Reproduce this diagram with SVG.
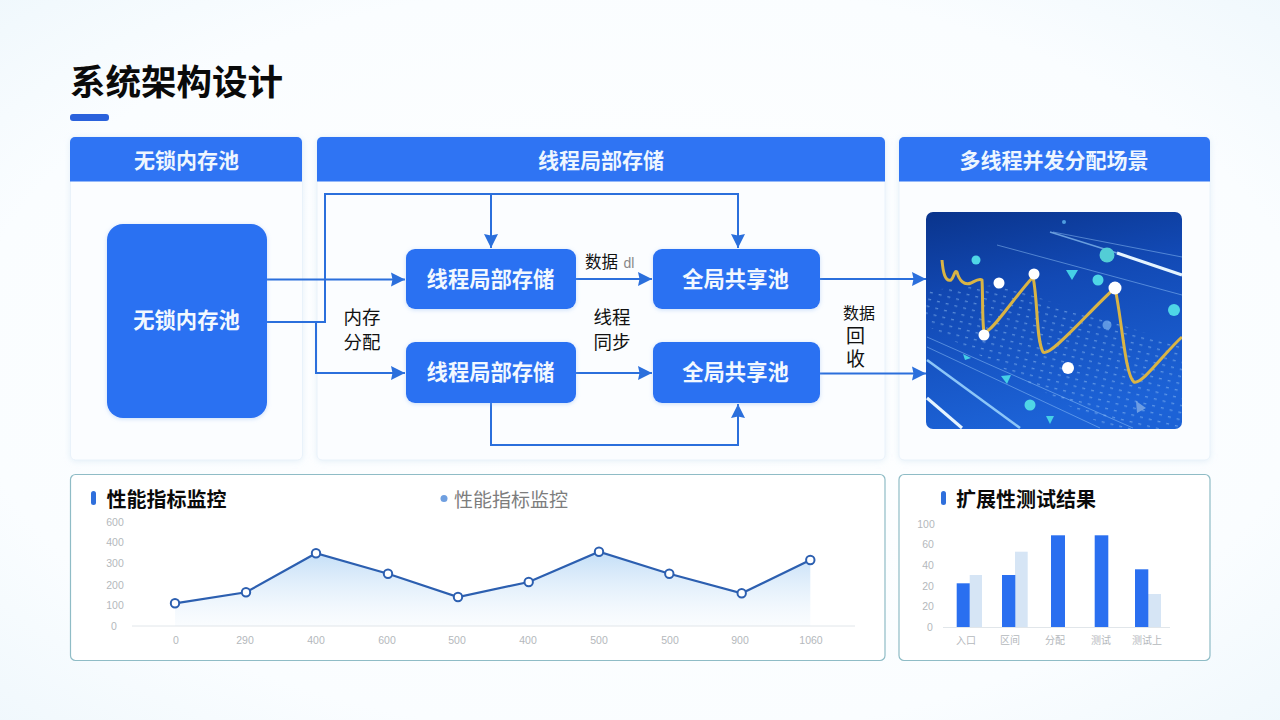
<svg xmlns="http://www.w3.org/2000/svg" width="1280" height="720" viewBox="0 0 1280 720">
<style>
text{font-family:"Noto Sans CJK SC","Noto Sans",sans-serif;text-anchor:middle}
.panel{fill:#fbfdff;stroke:#e9f2fa;stroke-width:1;filter:url(#soft)}
.head{fill:#2f74f3}
.ht{fill:#eef6ff;font-size:21px;font-weight:700}
.node{fill:#2b71f2;filter:url(#glow)}
.nt{fill:#f2f8ff;font-size:21.300px;font-weight:700}
.lab{fill:#111;font-size:18.500px}
.tight{font-family:"Liberation Sans","Noto Sans CJK SC",sans-serif}
.con{fill:none;stroke:#2b6fdc;stroke-width:2}
.card{fill:#fff;stroke:#8fbcc6;stroke-width:1.200}
.sec{fill:#0a0a0a;font-size:20px;font-weight:700;text-anchor:start}
.ax{fill:#b4b8bc;font-size:10.500px;font-family:"Liberation Sans",sans-serif}
.axc{font-family:"Noto Sans CJK SC",sans-serif;font-size:10px}
.pt{fill:#fff;stroke:#2c5fb0;stroke-width:2}
.b1{fill:#2a6ff0}.b2{fill:#d6e5f5}
.wd{fill:#fff}.cy{fill:#4fd6e6}
.st{stroke:#9fd0ff;fill:none;stroke-width:1;opacity:.45}
.tri{fill:#45cfe6}
</style>
<defs>
<radialGradient id="bg" cx="50%" cy="50%" r="75%"><stop offset="0" stop-color="#fff"/><stop offset=".7" stop-color="#fafdff"/><stop offset="1" stop-color="#eef7fc"/></radialGradient>
<linearGradient id="area" x1="0" y1="0" x2="0" y2="1"><stop offset="0" stop-color="#bcdaf6" stop-opacity=".9"/><stop offset="1" stop-color="#eef6fd" stop-opacity=".3"/></linearGradient>
<linearGradient id="img" x1="0" y1="0" x2="0.25" y2="1"><stop offset="0" stop-color="#0a348c"/><stop offset=".4" stop-color="#1249b4"/><stop offset="1" stop-color="#1c62d6"/></linearGradient>
<filter id="soft" x="-5%" y="-5%" width="110%" height="110%"><feDropShadow dx="0" dy="1" stdDeviation="3" flood-color="#b9d4ea" flood-opacity=".35"/></filter>
<filter id="glow" x="-10%" y="-15%" width="120%" height="130%"><feDropShadow dx="0" dy="1" stdDeviation="2" flood-color="#7fb0f0" flood-opacity=".4"/></filter>
<filter id="b1"><feGaussianBlur stdDeviation=".6"/></filter>
<marker id="arr" markerUnits="userSpaceOnUse" markerWidth="15" markerHeight="15" refX="14" refY="7.500" orient="auto"><path d="M0 .5L14 7.500L0 14.500L1.500 7.500Z" fill="#2b6fdc"/></marker>
<pattern id="dots" width="9" height="7" patternUnits="userSpaceOnUse" patternTransform="rotate(14)"><rect x="1" y="2" width="3" height="1.300" fill="#9cc8f5"/></pattern>
<clipPath id="ic"><rect x="926" y="212" width="256" height="217" rx="7"/></clipPath>
</defs>
<rect width="1280" height="720" fill="url(#bg)"/>
<text x="70" y="95" style="font-size:35.500px;font-weight:700;text-anchor:start;fill:#0a0a0a">系统架构设计</text>
<rect x="70" y="114" width="39" height="7" rx="3" fill="#2a62dc"/>

<g id="panel-left"><rect class="panel" x="70.500" y="137" width="232" height="323" rx="5"/><path class="head" d="M70 142a5 5 0 0 1 5-5h222a5 5 0 0 1 5 5v39.500H70Z"/><text class="ht" x="186.500" y="168">无锁内存池</text></g>
<g id="panel-mid"><rect class="panel" x="317" y="137" width="568" height="323" rx="5"/><path class="head" d="M317 142a5 5 0 0 1 5-5h558a5 5 0 0 1 5 5v39.500H317Z"/><text class="ht" x="601" y="168">线程局部存储</text></g>
<g id="panel-right"><rect class="panel" x="899" y="137" width="311" height="323" rx="5"/><path class="head" d="M899 142a5 5 0 0 1 5-5h301a5 5 0 0 1 5 5v39.500H899Z"/><text class="ht" x="1054" y="168">多线程并发分配场景</text></g>

<g id="connectors">
<path class="con" d="M267 279.500H405" marker-end="url(#arr)"/>
<path class="con" d="M267 322H325V194H738V248" marker-end="url(#arr)"/>
<path class="con" d="M491 194V248" marker-end="url(#arr)"/>
<path class="con" d="M316 322V373H405" marker-end="url(#arr)"/>
<path class="con" d="M576 279H652" marker-end="url(#arr)"/>
<path class="con" d="M576 373H652" marker-end="url(#arr)"/>
<path class="con" d="M491 403V445H738V404" marker-end="url(#arr)"/>
<path class="con" d="M820 279H926" marker-end="url(#arr)"/>
<path class="con" d="M820 373.500H926" marker-end="url(#arr)"/>
</g>

<g id="node-pool"><rect class="node" x="107" y="224" width="160" height="194" rx="16"/><text class="nt" x="186.500" y="328">无锁内存池</text></g>
<g id="node-tls1"><rect class="node" x="406" y="249" width="170" height="60" rx="9"/><text class="nt" x="490.500" y="287">线程局部存储</text></g>
<g id="node-tls2"><rect class="node" x="406" y="342" width="170" height="61" rx="9"/><text class="nt" x="490.500" y="380">线程局部存储</text></g>
<g id="node-gp1"><rect class="node" x="653" y="249" width="167" height="60" rx="9"/><text class="nt" x="735.500" y="287">全局共享池</text></g>
<g id="node-gp2"><rect class="node" x="653" y="342" width="167" height="61" rx="9"/><text class="nt" x="735.500" y="380">全局共享池</text></g>

<g id="labels">
<text class="lab" x="362" y="324">内存</text><text class="lab" x="362" y="349">分配</text>
<text class="lab" x="612" y="324">线程</text><text class="lab" x="612" y="349">同步</text>
<text class="lab" x="601.500" y="268" style="font-size:16.500px">数据</text>
<text x="629" y="268" style="font-size:14px;fill:#888;font-family:'Liberation Sans',sans-serif">dl</text>
<text class="lab tight" x="859" y="319" style="font-size:16px">数据</text>
<text class="lab tight" x="855.500" y="343" style="font-size:19px">回</text>
<text class="lab tight" x="855.500" y="366" style="font-size:19px">收</text>
</g>

<g id="scene" clip-path="url(#ic)">
<rect x="926" y="212" width="256" height="217" fill="url(#img)"/>
<path d="M926 290L1000 285L1182 345V429H1110L926 325Z" fill="url(#dots)" opacity=".5"/>
<g filter="url(#b1)">
<path class="st" d="M1053 232L1182 257M997 245L1182 295M927 337L1133 428M927 347L1100 428"/>
<path d="M1117 253L1182 275" stroke="#e5f4ff" stroke-width="3" fill="none"/>
<path d="M1050 232L1117 253" stroke="#8fc4f5" stroke-width="1.500" fill="none" opacity=".7"/>
<path d="M927 360L1020 428" stroke="#8cc6f8" stroke-width="2.500" fill="none"/>
<path d="M927 398L962 428" stroke="#e5f4ff" stroke-width="3" fill="none"/>
<circle cx="1107" cy="255" r="7.500" fill="#52cdd6"/>
<circle class="cy" cx="976" cy="260" r="4.500"/><circle class="cy" cx="1098" cy="280" r="5.500"/><circle class="cy" cx="1174" cy="310" r="6"/><circle class="cy" cx="1030" cy="405" r="5.500"/>
<circle cx="1107" cy="325" r="4.500" fill="#6fa8ea" opacity=".8"/><circle cx="1064" cy="222" r="2" fill="#4f9de0"/>
<path class="tri" d="M1066 270L1078 270L1072 280Z"/><path class="tri" d="M1001 376L1011 375L1007 384Z"/><path class="tri" d="M963 354L971 358L965 360Z"/><path class="tri" d="M1046 416L1054 416L1050 424Z"/>
<path d="M1136 401L1146 408L1137 413Z" fill="#8fb6e8" opacity=".7"/>
<path d="M942 260C943 272 945 282 951 280C954 278 954 270 957 272C959 280 964 286 971 283C975 281 979 278 982 280C983 295 982 320 984 332C990 335 1012 300 1033 277C1038 300 1036 340 1043 352C1050 358 1090 310 1115 288C1122 320 1125 375 1134 382C1142 385 1165 352 1182 337" fill="none" stroke="#d9b444" stroke-width="3" stroke-linejoin="round"/>
<circle class="wd" cx="999" cy="283" r="5.500"/><circle class="wd" cx="1034" cy="274" r="5.500"/><circle class="wd" cx="1115" cy="288" r="6.500"/><circle class="wd" cx="984" cy="335" r="5.500"/><circle class="wd" cx="1068" cy="368" r="6"/>
</g>
</g>

<g id="card-perf">
<rect class="card" x="70.500" y="474.500" width="814.500" height="186" rx="5"/>
<rect x="91" y="491" width="5" height="14" rx="2.500" fill="#2f6fdc"/>
<text class="sec" x="106.500" y="506.500">性能指标监控</text>
<circle cx="444" cy="498.500" r="3.500" fill="#6f9fe0"/>
<text x="454" y="506.500" style="font-size:19px;text-anchor:start;fill:#7d7d7d">性能指标监控</text>
<path d="M175 603.300L246 592.300L316 553.300L388 573.700L458 597L528.700 582L599 551.700L669.300 573.700L741.700 593.300L810.300 560V626H175Z" fill="url(#area)"/>
<path d="M132 626H855" stroke="#e1e6ea" stroke-width="1" fill="none"/>
<path d="M175 603.300L246 592.300L316 553.300L388 573.700L458 597L528.700 582L599 551.700L669.300 573.700L741.700 593.300L810.300 560" fill="none" stroke="#2c5fb0" stroke-width="2.200"/>
<circle class="pt" cx="175" cy="603.300" r="4.200"/><circle class="pt" cx="246" cy="592.300" r="4.200"/><circle class="pt" cx="316" cy="553.300" r="4.200"/><circle class="pt" cx="388" cy="573.700" r="4.200"/><circle class="pt" cx="458" cy="597" r="4.200"/><circle class="pt" cx="528.700" cy="582" r="4.200"/><circle class="pt" cx="599" cy="551.700" r="4.200"/><circle class="pt" cx="669.300" cy="573.700" r="4.200"/><circle class="pt" cx="741.700" cy="593.300" r="4.200"/><circle class="pt" cx="810.300" cy="560" r="4.200"/>
<text class="ax" x="115" y="526">600</text><text class="ax" x="115" y="546">400</text><text class="ax" x="115" y="567">300</text><text class="ax" x="115" y="589">200</text><text class="ax" x="115" y="609">100</text><text class="ax" x="114" y="630">0</text>
<text class="ax" x="176" y="644">0</text><text class="ax" x="245" y="644">290</text><text class="ax" x="316" y="644">400</text><text class="ax" x="387" y="644">600</text><text class="ax" x="457" y="644">500</text><text class="ax" x="528" y="644">400</text><text class="ax" x="599" y="644">500</text><text class="ax" x="670" y="644">500</text><text class="ax" x="740" y="644">900</text><text class="ax" x="811" y="644">1060</text>
</g>

<g id="card-scale">
<rect class="card" x="899" y="474.500" width="311" height="186" rx="5"/>
<rect x="941" y="491" width="5" height="14" rx="2.500" fill="#2f6fdc"/>
<text class="sec" x="956" y="506.500">扩展性测试结果</text>
<path d="M943 627.500H1170" stroke="#e1e6ea" stroke-width="1" fill="none"/>
<rect class="b2" x="969.700" y="575" width="12.300" height="52"/><rect class="b1" x="956.700" y="583.300" width="13" height="43.700"/>
<rect class="b2" x="1015" y="551.700" width="12.700" height="75.300"/><rect class="b1" x="1002" y="575" width="13.300" height="52"/>
<rect class="b1" x="1051" y="535.300" width="14" height="91.700"/>
<rect class="b1" x="1094.700" y="535.300" width="13.600" height="91.700"/>
<rect class="b2" x="1148" y="594" width="13" height="33"/><rect class="b1" x="1135" y="569.300" width="13.300" height="57.700"/>
<text class="ax" x="926" y="528">100</text><text class="ax" x="928" y="548">60</text><text class="ax" x="928" y="569">40</text><text class="ax" x="928" y="590">20</text><text class="ax" x="928" y="610">20</text><text class="ax" x="930" y="631">0</text>
<text class="ax axc" x="966" y="644">入口</text><text class="ax axc" x="1010" y="644">区间</text><text class="ax axc" x="1055" y="644">分配</text><text class="ax axc" x="1101" y="644">测试</text><text class="ax axc" x="1147" y="644">测试上</text>
</g>
</svg>
